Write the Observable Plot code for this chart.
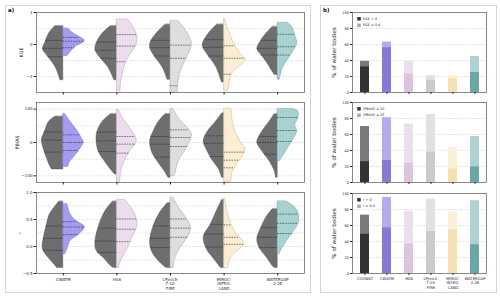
<!DOCTYPE html>
<html>
<head>
<meta charset="utf-8">
<script src="https://cdn.jsdelivr.net/npm/d3@7"></script>
<script src="https://cdn.jsdelivr.net/npm/@observablehq/plot@0.6"></script>
<style>
  body { margin: 0; background: #fff; font-family: "DejaVu Sans", sans-serif; }
  #fig { position: relative; width: 500px; height: 299px; overflow: hidden; }
  .box { position: absolute; box-sizing: border-box; border: 1px solid #d4d4d4; }
  .tag { position: absolute; font-size: 5.5px; font-weight: bold; color: #111; }
  .slot { position: absolute; }
</style>
</head>
<body>
<div id="fig">
  <div class="box" style="left:5px;top:5px;width:306px;height:288px"></div>
  <div class="box" style="left:320px;top:5px;width:177px;height:288px"></div>
  <div class="tag" style="left:8px;top:7px">a)</div>
  <div class="tag" style="left:323px;top:7px">b)</div>
  <div class="slot" id="a1" style="left:0;top:0"></div>
  <div class="slot" id="a2" style="left:0;top:97px"></div>
  <div class="slot" id="a3" style="left:0;top:187px"></div>
  <div class="slot" id="b1" style="left:320px;top:0"></div>
  <div class="slot" id="b2" style="left:320px;top:97px"></div>
  <div class="slot" id="b3" style="left:320px;top:187px"></div>
</div>
<script>
// ---- models and labels ----
const models = ["CWATM", "H08", "LPJmL5-7-10-FIRE", "MIROC-INTEG-LAND", "WATERGAP2-2E"];
const modelTicks = ["CWATM", "H08", "LPJmL5-\n7-10-\nFIRE", "MIROC-\nINTEG-\nLAND", "WATERGAP\n2-2E"];
const groups = ["COSWAT", "CWATM", "H08", "LPJmL5-7-10-FIRE", "MIROC-INTEG-LAND", "WATERGAP2-2E"];
const groupTicks = ["COSWAT", "CWATM", "H08", "LPJmL5-\n7-10-\nFIRE", "MIROC-\nINTEG-\nLAND", "WATERGAP\n2-2E"];

// ---- violin profiles: [metric value, relative density] (left = COSWAT, right = model) ----
const kgeRef = [
  [[0.57, 8], [0.34, 14], [0.03, 18], [-0.15, 20], [-0.38, 15], [-0.69, 8], [-1.0, 4], [-1.12, 3]],
  [[0.57, 6], [0.34, 14], [0.03, 20], [-0.18, 21], [-0.43, 16], [-0.69, 9], [-1.0, 4], [-1.12, 2.5]],
  [[0.62, 5], [0.4, 12], [0.1, 19], [-0.1, 20], [-0.4, 15], [-0.7, 8], [-1.0, 4], [-1.1, 3]],
  [[0.62, 7], [0.34, 15], [-0.02, 21], [-0.28, 17], [-0.69, 8], [-1.1, 3], [-1.19, 2]],
  [[0.55, 5], [0.34, 11], [0.08, 17], [-0.15, 20], [-0.33, 16], [-0.59, 10], [-0.85, 5], [-0.95, 3]]
];
const kgeSim = [
  [[0.49, 5], [0.34, 10], [0.11, 21], [-0.07, 12], [-0.28, 6], [-0.36, 4]],
  [[0.77, 11], [0.55, 16], [0.24, 20], [-0.02, 19], [-0.28, 14], [-0.54, 9], [-0.9, 6], [-1.2, 4], [-1.46, 3.5]],
  [[0.73, 8], [0.44, 15], [0.03, 21], [-0.28, 18], [-0.69, 12], [-1.1, 8], [-1.5, 7]],
  [[0.8, 1], [0.55, 3], [0.24, 7], [-0.07, 11], [-0.33, 17], [-0.48, 21], [-0.69, 15], [-0.95, 7], [-1.31, 5], [-1.46, 4]],
  [[0.67, 10], [0.55, 14], [0.29, 17], [0.03, 19], [-0.23, 15], [-0.48, 10], [-0.74, 5], [-1.1, 2]]
];
const kgeRefQ = [[0.13, -0.12, -0.38], [0.08, -0.18, -0.43], [0.13, -0.1, -0.36], [0.15, -0.09, -0.36], [0.13, -0.12, -0.33]];
const kgeSimQ = [[0.22, 0.10, -0.10], [0.31, -0.05, -0.54], [-0.02, -0.43, -1.29], [-0.04, -0.43, -0.93], [0.32, -0.07, -0.33]];

const pbiasRef = [
  [[77, 8], [62, 14], [33, 18], [8, 21], [-22, 19], [-48, 16], [-71, 13], [-81, 11]],
  [[85, 6], [62, 14], [33, 19], [8, 20], [-27, 18], [-56, 12], [-81, 6], [-96, 2]],
  [[85, 5], [60, 12], [30, 17], [5, 20], [-30, 18], [-60, 12], [-90, 5], [-106, 2]],
  [[87, 2], [62, 8], [28, 17], [3, 20], [-22, 17], [-51, 12], [-81, 5], [-106, 2]],
  [[85, 3], [62, 8], [33, 15], [0, 20], [-27, 15], [-56, 8], [-86, 3], [-106, 1.5]]
];
const pbiasSim = [
  [[85, 2], [62, 7], [38, 13], [13, 18], [0, 20], [-17, 17], [-42, 11], [-61, 6], [-73, 5]],
  [[97, 2], [72, 6], [43, 13], [13, 19], [-2, 19], [-22, 14], [-47, 9], [-76, 5], [-118, 3]],
  [[100, 3], [72, 8], [43, 17], [23, 21], [3, 19], [-22, 15], [-56, 8], [-91, 5], [-101, 4]],
  [[100, 7], [72, 8], [33, 11], [-2, 17], [-22, 21], [-42, 18], [-67, 12], [-91, 8], [-118, 7]],
  [[100, 15], [94, 20], [72, 20], [52, 17], [33, 19], [8, 15], [-17, 10], [-42, 5], [-56, 2]]
];
const pbiasRefQ = [[31, 7, -29], [31, 5, -27], [18, -5, -44], [20, -2, -42], [18, 0, -35]];
const pbiasSimQ = [[23, 0, -24], [18, -5, -32], [38, 15, -12], [-29, -53, -76], [75, 36, 3]];

const rRef = [
  [[0.83, 4], [0.6, 13], [0.41, 16], [0.17, 19], [-0.05, 20], [-0.2, 15], [-0.33, 9], [-0.4, 6]],
  [[0.83, 4], [0.66, 11], [0.41, 17], [0.1, 21], [-0.08, 20], [-0.23, 12], [-0.36, 6], [-0.4, 3]],
  [[0.8, 3], [0.6, 11], [0.35, 17], [0.1, 20], [-0.1, 18], [-0.3, 10], [-0.4, 4]],
  [[0.86, 2], [0.66, 7], [0.41, 13], [0.17, 20], [-0.05, 17], [-0.23, 10], [-0.4, 3]],
  [[0.69, 5], [0.54, 11], [0.35, 16], [0.14, 20], [-0.02, 18], [-0.2, 11], [-0.36, 5], [-0.4, 3]]
];
const rSim = [
  [[0.78, 4], [0.6, 7], [0.48, 12], [0.36, 21], [0.23, 16], [0.1, 7], [-0.05, 4], [-0.14, 2]],
  [[0.86, 8], [0.72, 14], [0.54, 19], [0.38, 20], [0.2, 16], [-0.02, 11], [-0.27, 4], [-0.4, 2]],
  [[0.9, 3], [0.72, 8], [0.54, 15], [0.35, 20], [0.17, 17], [-0.02, 10], [-0.2, 5], [-0.4, 3]],
  [[0.88, 1], [0.66, 3], [0.41, 7], [0.23, 12], [0.07, 20], [-0.02, 17], [-0.2, 7], [-0.4, 4]],
  [[0.83, 9], [0.72, 17], [0.57, 21], [0.41, 20], [0.26, 15], [0.1, 9], [-0.05, 4], [-0.14, 2]]
];
const rRefQ = [[0.38, 0.15, -0.07], [0.34, 0.10, -0.11], [0.38, 0.15, -0.02], [0.41, 0.23, -0.01], [0.35, 0.17, -0.02]];
const rSimQ = [[0.46, 0.36, 0.22], [0.51, 0.32, 0.09], [0.51, 0.34, 0.17], [0.40, 0.17, 0.04], [0.60, 0.43, 0.24]];

// ---- share of water bodies meeting each threshold (%) ----
const kgeLoose = [39, 63, 38.5, 21, 21, 45];
const kgeStrict = [32, 56, 23, 15, 17, 25];
const pbiasLoose = [70, 81, 73, 85, 44, 57.5];
const pbiasStrict = [26, 27.5, 24, 38, 17, 19.5];
const rLoose = [73, 95, 78, 93, 77, 91];
const rStrict = [49, 57, 37, 52.5, 54.5, 36];

// ---- colours ----
const refFill = "#6e6e6e", refStroke = "#505050";
const simFill = ["#a59cf0", "#ecddec", "#dedede", "#fbeed5", "#a8d2d2"];
const simStroke = ["#8075d4", "#bda8bd", "#a9a9a9", "#cdb98f", "#72a6a6"];
const barDark = ["#333333", "#8878d8", "#dcc5dc", "#cbcbcb", "#f6dfb0", "#6aa8a7"];
const barLight = ["#7a7a7a", "#b4abed", "#ecdfec", "#e1e1e1", "#fbefd5", "#aed1d1"];

const FONT = "DejaVu Sans";
const INK = "#262626";
const K = 0.4 / 21; // x units per density unit (peak density fills 40% of a slot)

function halfRows(profiles, side, fills, strokes) {
  return profiles.flatMap((prof, i) => prof.map(([v, d]) => ({
    model: models[i], v, c: i + 0.5, e: i + 0.5 + side * d * K,
    fill: typeof fills === "string" ? fills : fills[i],
    stroke: typeof strokes === "string" ? strokes : strokes[i]
  })));
}
function quartRows(profiles, quarts, side) {
  return quarts.flatMap((qs, i) => {
    const dens = d3.scaleLinear(profiles[i].map(p => p[0]), profiles[i].map(p => p[1])).clamp(true);
    return qs.map(q => ({v: q, c: i + 0.5, e: i + 0.5 + side * dens(q) * K}));
  });
}

function violinPlot(o) {
  const refR = halfRows(o.ref, -1, refFill, refStroke);
  const simR = halfRows(o.sim, 1, simFill, simStroke);
  return Plot.plot({
    width: 311, height: o.height,
    marginLeft: 36, marginRight: 7, marginTop: o.mt, marginBottom: o.mb,
    style: {background: "transparent", fontFamily: FONT, color: INK, overflow: "visible"},
    x: {domain: [0, 5]},
    y: {domain: o.domain},
    color: {type: "identity"},
    marks: [
      Plot.gridY(o.grid, {stroke: "#b8b8b8", strokeOpacity: 1, strokeWidth: 0.5, strokeDasharray: "1.2,1.2"}),
      Plot.areaX(refR, {y: "v", x1: "e", x2: "c", z: "model", fill: "fill", stroke: "stroke", strokeWidth: 0.4, curve: "catmull-rom"}),
      Plot.areaX(simR, {y: "v", x1: "c", x2: "e", z: "model", fill: "fill", stroke: "stroke", strokeWidth: 0.6, curve: "catmull-rom"}),
      Plot.ruleY(quartRows(o.ref, o.refQ, -1), {y: "v", x1: "e", x2: "c", stroke: "#222", strokeWidth: 0.6, strokeDasharray: "1.6,1"}),
      Plot.ruleY(quartRows(o.sim, o.simQ, 1), {y: "v", x1: "c", x2: "e", stroke: "#222", strokeWidth: 0.6, strokeDasharray: "1.6,1"}),
      Plot.frame({stroke: "#6a6a6a", strokeWidth: 0.8}),
      Plot.axisY({ticks: o.ticks, tickFormat: o.fmt, tickSize: 2.5, tickPadding: 1.5, fontSize: 4, label: null, color: INK}),
      Plot.axisX({ticks: [0.5, 1.5, 2.5, 3.5, 4.5], tickSize: 2.5, tickPadding: 1.5, fontSize: 4, lineHeight: 1.15, label: null, color: INK,
        tickFormat: o.showX ? (d => modelTicks[Math.floor(d)]) : (() => "")}),
      Plot.text([o.label], {frameAnchor: "left", textAnchor: "middle", lineAnchor: "middle", rotate: -90,
        dx: o.labelDx, fontSize: 4.8, fill: INK, text: d => d})
    ]
  });
}

function barPlot(o) {
  const rows = groups.map((g, i) => ({g, loose: o.loose[i], strict: o.strict[i], dark: barDark[i], light: barLight[i]}));
  return Plot.plot({
    width: 177, height: o.height,
    marginLeft: 32, marginRight: 11, marginTop: o.mt, marginBottom: o.mb,
    style: {background: "transparent", fontFamily: FONT, color: INK, overflow: "visible"},
    x: {type: "band", domain: groups, paddingInner: 0.6, paddingOuter: 0.22},
    y: {domain: [0, 100]},
    color: {type: "identity"},
    marks: [
      Plot.gridY([20, 40, 60, 80], {stroke: "#b8b8b8", strokeOpacity: 1, strokeWidth: 0.5, strokeDasharray: "1.2,1.2"}),
      Plot.barY(rows, {x: "g", y: "loose", fill: "light"}),
      Plot.barY(rows, {x: "g", y: "strict", fill: "dark"}),
      Plot.frame({stroke: "#6a6a6a", strokeWidth: 0.8}),
      Plot.axisY({ticks: [0, 20, 40, 60, 80, 100], tickSize: 2, tickPadding: 1.5, fontSize: 3.6, label: null, color: INK}),
      Plot.axisX({tickSize: 2, tickPadding: 1.5, fontSize: 3.8, lineHeight: 1.15, label: null, color: INK,
        tickFormat: o.showX ? (d => groupTicks[groups.indexOf(d)]) : (() => "")}),
      Plot.text(["% of water bodies"], {frameAnchor: "left", textAnchor: "middle", lineAnchor: "middle", rotate: -90,
        dx: -18, fontSize: 5.6, fill: INK, text: d => d}),
      Plot.dot([0], {frameAnchor: "top-left", dx: 6.5, dy: 6.3, symbol: "square", r: 2, fill: "#333333"}),
      Plot.dot([0], {frameAnchor: "top-left", dx: 6.5, dy: 12.8, symbol: "square", r: 2, fill: "#aaaaaa"}),
      Plot.text([o.legend[0]], {frameAnchor: "top-left", dx: 10.5, dy: 6.3, textAnchor: "start", lineAnchor: "middle", fontSize: 3.4, fill: INK, text: d => d}),
      Plot.text([o.legend[1]], {frameAnchor: "top-left", dx: 10.5, dy: 12.8, textAnchor: "start", lineAnchor: "middle", fontSize: 3.4, fill: INK, text: d => d})
    ]
  });
}

const f0 = d3.format("d"), f1 = d3.format(".1f");
document.getElementById("a1").append(violinPlot({
  ref: kgeRef, sim: kgeSim, refQ: kgeRefQ, simQ: kgeSimQ, domain: [-1.5, 1],
  ticks: [1, 0, -1], grid: [0.5, 0, -0.5, -1], fmt: f0, label: "KGE", labelDx: -15,
  height: 97, mt: 12, mb: 5, showX: false
}));
document.getElementById("a2").append(violinPlot({
  ref: pbiasRef, sim: pbiasSim, refQ: pbiasRefQ, simQ: pbiasSimQ, domain: [-120, 120],
  ticks: [100, 0, -100], grid: [100, 50, 0, -50, -100], fmt: f0, label: "PBIAS", labelDx: -19.5,
  height: 90, mt: 5, mb: 5, showX: false
}));
document.getElementById("a3").append(violinPlot({
  ref: rRef, sim: rSim, refQ: rRefQ, simQ: rSimQ, domain: [-0.5, 1],
  ticks: [1, 0.5, 0, -0.5], grid: [0.75, 0.5, 0.25, 0, -0.25], fmt: f1, label: "r", labelDx: -16,
  height: 112, mt: 5, mb: 26, showX: true
}));
document.getElementById("b1").append(barPlot({
  loose: kgeLoose, strict: kgeStrict, legend: ["KGE > 0", "KGE ≥ 0.4"], height: 97, mt: 12, mb: 5, showX: false
}));
document.getElementById("b2").append(barPlot({
  loose: pbiasLoose, strict: pbiasStrict, legend: ["|PBIAS| ≤ 10", "|PBIAS| ≤ 25"], height: 90, mt: 5, mb: 5, showX: false
}));
document.getElementById("b3").append(barPlot({
  loose: rLoose, strict: rStrict, legend: ["r > 0", "r ≥ 0.4"], height: 112, mt: 6, mb: 26, showX: true
}));
</script>
</body>
</html>
